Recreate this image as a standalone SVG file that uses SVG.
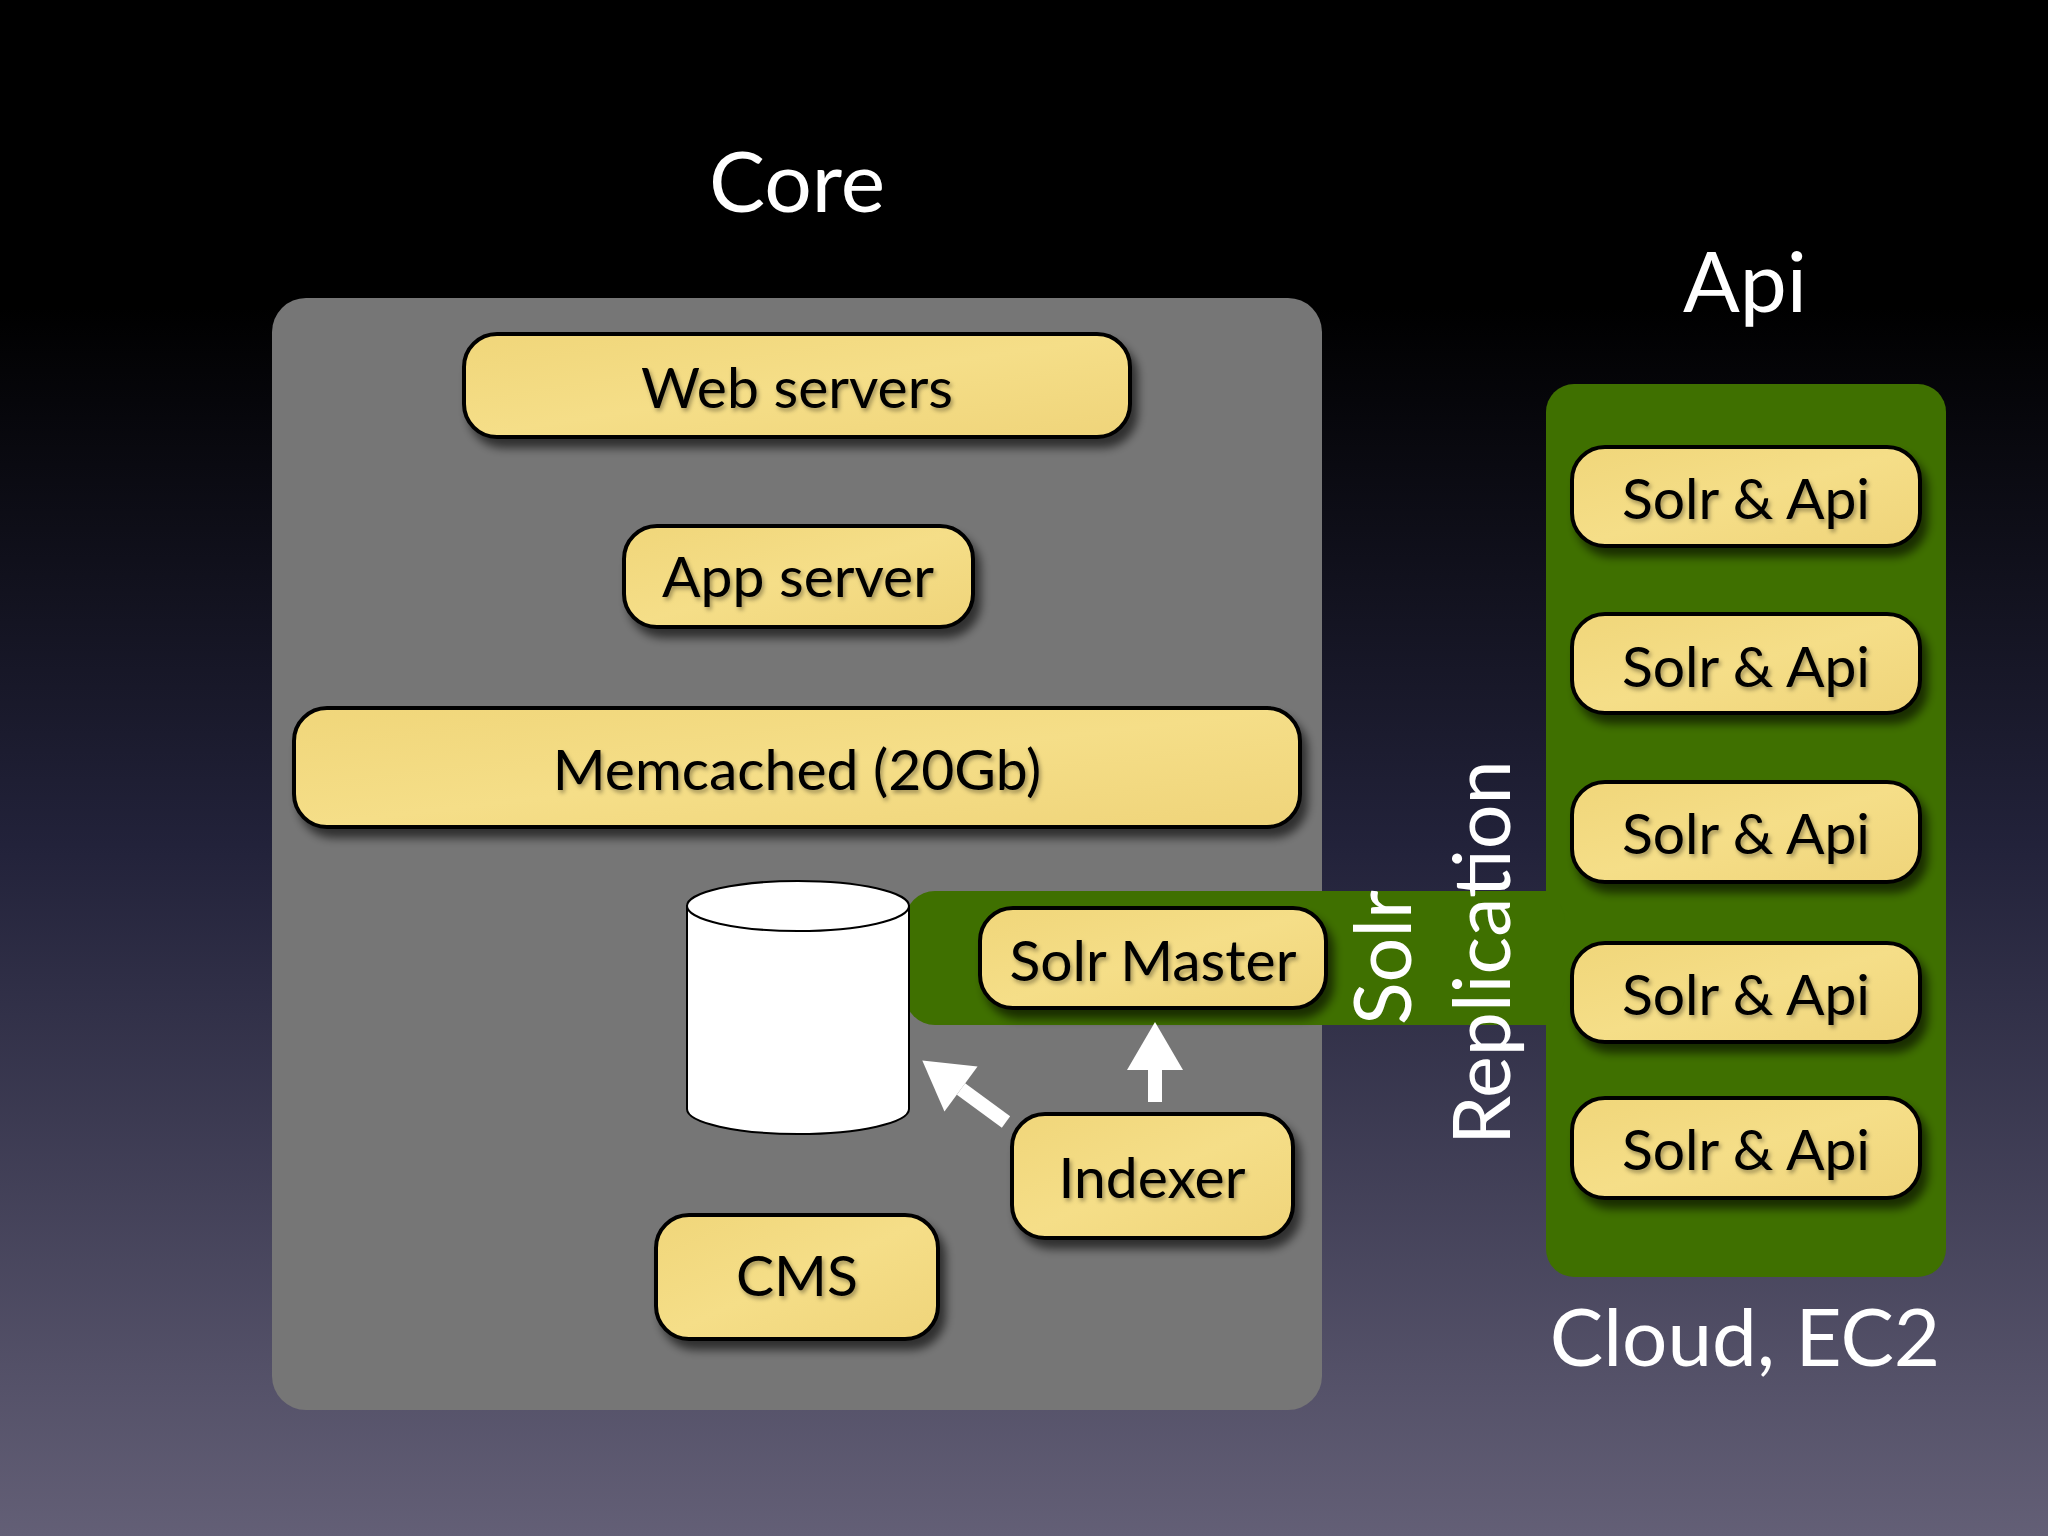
<svg xmlns="http://www.w3.org/2000/svg" width="2048" height="1536" viewBox="0 0 2048 1536">
<defs>
<linearGradient id="bg" x1="0" y1="0" x2="0" y2="1">
<stop offset="0" stop-color="#000000"/>
<stop offset="0.2" stop-color="#000000"/>
<stop offset="0.55" stop-color="#22223a"/>
<stop offset="1" stop-color="#635f76"/>
</linearGradient>
<linearGradient id="paper" x1="0" y1="0" x2="1" y2="1">
<stop offset="0" stop-color="#f0d67a"/>
<stop offset="0.5" stop-color="#f5de88"/>
<stop offset="1" stop-color="#efd47a"/>
</linearGradient>
<filter id="shadow" x="-10%" y="-20%" width="130%" height="150%">
<feDropShadow dx="6" dy="9" stdDeviation="5" flood-color="#000" flood-opacity="0.6"/>
</filter>
<filter id="tshadow" x="-5%" y="-10%" width="115%" height="130%">
<feDropShadow dx="2" dy="3" stdDeviation="2" flood-color="#000" flood-opacity="0.35"/>
</filter>
<marker id="head" markerUnits="userSpaceOnUse" markerWidth="60" markerHeight="60" refX="0" refY="0" viewBox="0 -30 50 60" orient="auto" overflow="visible">
<path d="M0,-28 L48,0 L0,28 Z" fill="#ffffff"/>
</marker>
<style>
.box{fill:url(#paper);stroke:#000;stroke-width:4;filter:url(#shadow)}
.lbl{font-family:Lato,"Open Sans",sans-serif;font-size:57px;fill:#000;text-anchor:middle;filter:url(#tshadow)}
.title{font-family:Lato,"Open Sans",sans-serif;font-size:84px;fill:#fff;text-anchor:middle}
.vert{font-family:Lato,"Open Sans",sans-serif;font-size:79px;fill:#fff}
.green{fill:#3f7000}
.conn{stroke:#fff;stroke-width:14;fill:none;marker-end:url(#head)}
</style>
</defs>
<rect x="0" y="0" width="2048" height="1536" fill="url(#bg)"/>

<g id="core-panel">
<rect x="272" y="298" width="1050" height="1112" rx="34" fill="#767676"/>
<text class="title" x="797" y="212">Core</text>
</g>

<g id="api-panel">
<text class="title" x="1745" y="312">Api</text>
<rect class="green" x="1546" y="384" width="400" height="893" rx="28"/>
<text class="title" x="1745" y="1366" style="font-size:80px">Cloud, EC2</text>
</g>

<g id="replication-band">
<rect class="green" x="905" y="891" width="660" height="134" rx="30"/>
<rect class="green" x="1300" y="891" width="260" height="134"/>
<text class="vert" transform="translate(1411,1025) rotate(-90)">Solr</text>
<text class="vert" transform="translate(1510,1145) rotate(-90)">Replication</text>
</g>

<g id="web-servers">
<rect class="box" x="464" y="334" width="666" height="103" rx="33"/>
<text class="lbl" x="797" y="408">Web servers</text>
</g>

<g id="app-server">
<rect class="box" x="624" y="526" width="349" height="101" rx="33"/>
<text class="lbl" x="798" y="597">App server</text>
</g>

<g id="memcached">
<rect class="box" x="294" y="708" width="1006" height="119" rx="33"/>
<text class="lbl" x="797" y="790">Memcached (20Gb)</text>
</g>

<g id="database">
<path d="M687,906 L687,1109 A111,25 0 0 0 909,1109 L909,906 Z" fill="#fff" stroke="#000" stroke-width="2"/>
<ellipse cx="798" cy="906" rx="111" ry="25" fill="#fff" stroke="#000" stroke-width="2"/>
</g>

<g id="solr-master">
<rect class="box" x="980" y="908" width="346" height="100" rx="33"/>
<text class="lbl" x="1153" y="981">Solr Master</text>
</g>

<g id="indexer">
<rect class="box" x="1012" y="1114" width="281" height="124" rx="33"/>
<text class="lbl" x="1152" y="1198">Indexer</text>
</g>

<g id="cms">
<rect class="box" x="656" y="1215" width="282" height="124" rx="33"/>
<text class="lbl" x="797" y="1296">CMS</text>
</g>

<g id="solr-api-1">
<rect class="box" x="1572" y="447" width="348" height="99" rx="33"/>
<text class="lbl" x="1746" y="519">Solr &amp; Api</text>
</g>
<g id="solr-api-2">
<rect class="box" x="1572" y="614" width="348" height="99" rx="33"/>
<text class="lbl" x="1746" y="687">Solr &amp; Api</text>
</g>
<g id="solr-api-3">
<rect class="box" x="1572" y="782" width="348" height="100" rx="33"/>
<text class="lbl" x="1746" y="854">Solr &amp; Api</text>
</g>
<g id="solr-api-4">
<rect class="box" x="1572" y="943" width="348" height="99" rx="33"/>
<text class="lbl" x="1746" y="1015">Solr &amp; Api</text>
</g>
<g id="solr-api-5">
<rect class="box" x="1572" y="1098" width="348" height="100" rx="33"/>
<text class="lbl" x="1746" y="1170">Solr &amp; Api</text>
</g>

<g id="connectors">
<path class="conn" d="M1155,1102 L1155,1070"/>
<path class="conn" d="M1006,1122 L961,1089"/>
</g>
</svg>
